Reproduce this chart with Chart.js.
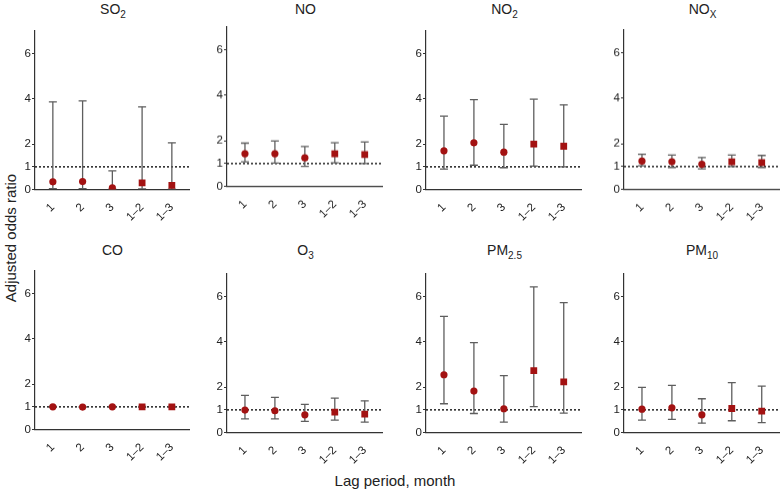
<!DOCTYPE html>
<html>
<head>
<meta charset="utf-8">
<script src="https://cdn.jsdelivr.net/npm/chart.js@4.4.0/dist/chart.umd.min.js"></script>
<style>
  body { margin: 0; background: #fff; font-family: 'Liberation Sans', Arial, sans-serif; }
  #wrap { position: relative; width: 784px; height: 493px; overflow: hidden; }
  .panel { position: absolute; }
  .title { position: absolute; font-size: 14px; line-height: 16px; color: #222; text-align: center; width: 120px; }
  .title sub { font-size: 10px; line-height: 0; }
  #ytitle { position: absolute; left: 10px; top: 238px; font-size: 15px; color: #222;
            transform: translate(-50%, -50%) rotate(-90deg); white-space: nowrap; }
  #xtitle { position: absolute; left: 395px; top: 481px; font-size: 15px; line-height: 18px; color: #222;
            transform: translate(-50%, -50%); white-space: nowrap; }
</style>
</head>
<body>
<div id="wrap">
  <div id="ytitle">Adjusted odds ratio</div>
  <div id="xtitle">Lag period, month</div>
</div>
<script>
// Lag periods on the x axis
const lags = ['1', '2', '3', '1–2', '1–3'];
const yTicks = [0, 1, 2, 4, 6];

// Panel titles (main text + subscript)
const titleMain = ['SO', 'NO', 'NO', 'NO', 'CO', 'O', 'PM', 'PM'];
const titleSub  = ['2',  '',   '2',  'X',  '',   '3', '2.5', '10'];

// Odds ratios with 95% CI, one set per pollutant
const so2   = [0.34, 0.35, 0.07, 0.29, 0.18];
const so2Lo = [0.04, 0.04, 0.01, 0.03, 0.02];
const so2Hi = [3.87, 3.91, 0.82, 3.65, 2.06];

const no   = [1.43, 1.43, 1.25, 1.43, 1.40];
const noLo = [1.08, 1.02, 0.88, 1.03, 1.00];
const noHi = [1.90, 1.99, 1.75, 1.92, 1.95];

const no2   = [1.71, 2.06, 1.65, 2.00, 1.91];
const no2Lo = [0.90, 1.07, 0.96, 1.03, 1.00];
const no2Hi = [3.24, 3.97, 2.88, 3.99, 3.74];

const nox   = [1.24, 1.21, 1.10, 1.21, 1.18];
const noxLo = [1.03, 0.96, 0.90, 1.00, 0.96];
const noxHi = [1.54, 1.51, 1.40, 1.51, 1.49];

const co   = [1.00, 0.99, 1.00, 1.00, 1.00];
const coLo = [0.98, 0.98, 0.98, 0.98, 0.98];
const coHi = [1.02, 1.01, 1.02, 1.02, 1.02];

const o3   = [0.99, 0.96, 0.78, 0.90, 0.81];
const o3Lo = [0.60, 0.60, 0.49, 0.55, 0.46];
const o3Hi = [1.64, 1.55, 1.24, 1.52, 1.40];

const pm25   = [2.55, 1.83, 1.05, 2.73, 2.24];
const pm25Lo = [1.27, 0.84, 0.46, 1.14, 0.86];
const pm25Hi = [5.13, 3.97, 2.51, 6.43, 5.74];

const pm10   = [1.03, 1.09, 0.78, 1.06, 0.94];
const pm10Lo = [0.55, 0.58, 0.41, 0.52, 0.44];
const pm10Hi = [1.99, 2.08, 1.49, 2.20, 2.05];

const series = [
  [so2, so2Lo, so2Hi], [no, noLo, noHi], [no2, no2Lo, no2Hi], [nox, noxLo, noxHi],
  [co, coLo, coHi], [o3, o3Lo, o3Hi], [pm25, pm25Lo, pm25Hi], [pm10, pm10Lo, pm10Hi]
];

// plot area placement: left edge, bottom (y=0), width
const panelPos = [
  [35, 189.5, 156], [227, 185.7, 157], [426, 189.3, 157], [624, 189, 157],
  [34.5, 429.5, 156], [227, 432.3, 157], [426, 432.3, 157], [623.5, 432.3, 157]
];

const RED = '#a31212';
const GREY = '#5e5e5e';
const AXIS_W = 30, XAXIS_H = 46, PAD_TOP = 10, PAD_RIGHT = 4;
const PX_PER_UNIT = 22.65;

const wrap = document.getElementById('wrap');

series.forEach((s, p) => {
  const [or, lo, hi] = s;
  const [left, bottom, w] = panelPos[p];
  const plotH = 7 * PX_PER_UNIT;
  const cw = AXIS_W + w + PAD_RIGHT;
  const ch = PAD_TOP + plotH + XAXIS_H;

  const box = document.createElement('div');
  box.className = 'panel';
  box.style.left = (left - AXIS_W) + 'px';
  box.style.top = (bottom - plotH - PAD_TOP) + 'px';
  box.style.width = cw + 'px';
  box.style.height = ch + 'px';
  const cv = document.createElement('canvas');
  box.appendChild(cv);
  wrap.appendChild(box);

  const t = document.createElement('div');
  t.className = 'title';
  t.innerHTML = titleMain[p] + (titleSub[p] ? '<sub>' + titleSub[p] + '</sub>' : '');
  t.style.left = (left + w * 0.5 - 60) + 'px';
  t.style.top = (p < 4 ? 1 : 242) + 'px';
  wrap.appendChild(t);

  const circles = [], squares = [], bars = [];
  or.forEach((v, i) => {
    const pt = { x: i + 1, y: v };
    (i < 3 ? circles : squares).push(pt);
    bars.push({ x: i + 1, y: lo[i] }, { x: i + 1, y: hi[i] }, { x: i + 1, y: null });
  });

  new Chart(cv, {
    type: 'scatter',
    data: {
      datasets: [
        { data: circles, pointStyle: 'circle', pointRadius: 3.6, backgroundColor: RED, borderColor: RED, borderWidth: 0, order: 0 },
        { data: squares, pointStyle: 'rect', pointRadius: 4.8, backgroundColor: RED, borderColor: RED, borderWidth: 0, order: 0 },
        { data: bars, showLine: true, spanGaps: false, borderColor: GREY, borderWidth: 1.3,
          pointStyle: 'line', pointRadius: 4, pointBorderColor: GREY, pointBorderWidth: 1.3, order: 1 },
        { data: [{ x: 0.4, y: 1 }, { x: 5.6, y: 1 }], showLine: true, borderColor: '#222',
          borderWidth: 1.5, borderDash: [2, 2], pointRadius: 0, order: 2 }
      ]
    },
    options: {
      responsive: true,
      maintainAspectRatio: false,
      animation: false,
      layout: { padding: { top: PAD_TOP, right: PAD_RIGHT, left: 0, bottom: 0 } },
      plugins: { legend: { display: false }, tooltip: { enabled: false } },
      scales: {
        x: {
          type: 'linear', min: 0.4, max: 5.6,
          grid: { display: false },
          border: { display: true, color: '#333', width: 1.2 },
          afterBuildTicks: a => { a.ticks = lags.map((l, i) => ({ value: i + 1 })); },
          afterFit: a => { a.height = XAXIS_H; },
          ticks: {
            callback: v => lags[v - 1], autoSkip: false,
            maxRotation: 45, minRotation: 45, padding: 3,
            color: '#222', font: { family: "'Liberation Sans', Arial, sans-serif", size: 11.5 }
          }
        },
        y: {
          min: 0, max: 7,
          grid: { drawOnChartArea: false, drawTicks: true, tickLength: 3, color: '#333' },
          border: { display: true, color: '#333', width: 1.2 },
          afterBuildTicks: a => { a.ticks = yTicks.map(v => ({ value: v })); },
          afterFit: a => { a.width = AXIS_W; },
          ticks: {
            padding: 1, color: '#222',
            font: { family: "'Liberation Sans', Arial, sans-serif", size: 11.5 }
          }
        }
      }
    }
  });
});
</script>
</body>
</html>
